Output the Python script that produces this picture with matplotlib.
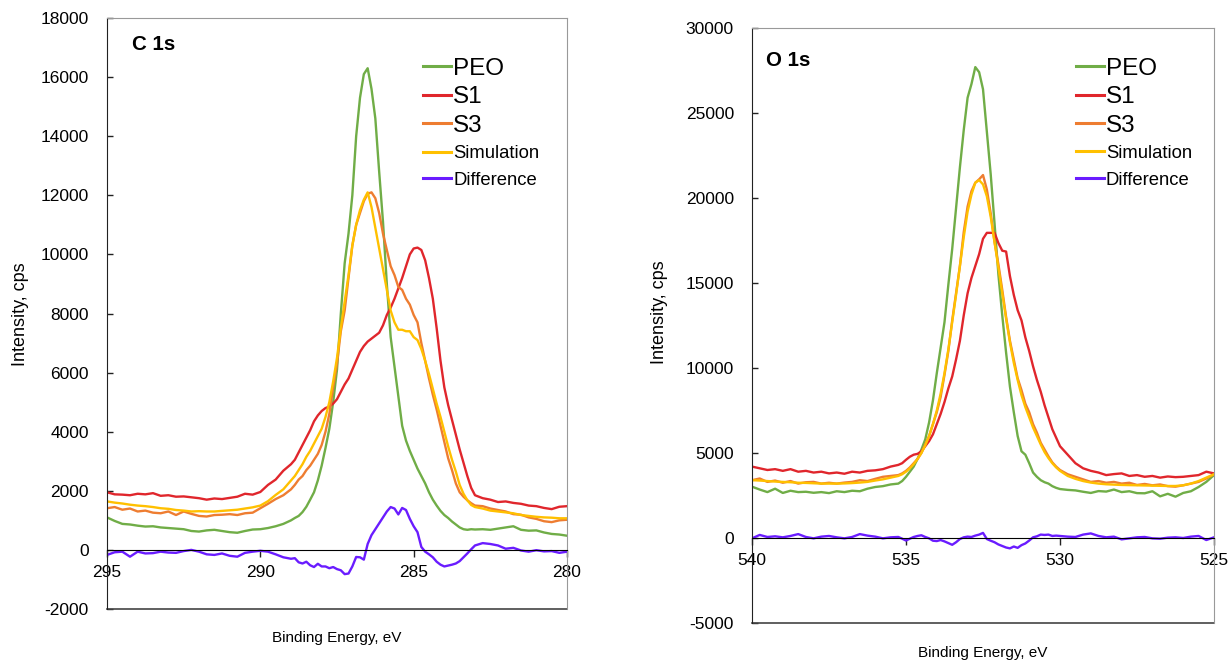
import numpy as np
import matplotlib
matplotlib.use("Agg")
import matplotlib.pyplot as plt

plt.rcParams['font.family'] = ['Liberation Sans', 'DejaVu Sans']
plt.rcParams['axes.unicode_minus'] = False

# binding energy grids (eV), finer steps through the peaks
c1s_energy = np.round(np.concatenate([np.arange(295.0, 289.0, -0.25),
                                      np.arange(289.0, 282.9, -0.125),
                                      np.arange(282.75, 279.9, -0.25)]), 3)
o1s_energy = np.round(np.concatenate([np.arange(540.0, 535.4, -0.25),
                                      np.arange(535.25, 529.9, -0.125),
                                      np.arange(529.75, 524.9, -0.25)]), 3)

# ---- C 1s (cps) ----
c1s_peo = [1100, 980, 880, 860, 820, 790, 800, 760, 740, 720, 700, 640, 620, 660, 680, 640,
           600, 580, 640, 690, 700, 740, 800, 880,
           1000, 1080, 1150, 1280, 1460, 1700, 1950, 2350, 2850, 3450, 4100, 5000, 6100, 8000,
           9700, 10700, 12000, 14000, 15300, 16100, 16300, 15600, 14600, 12800, 11100, 9000,
           7200, 6200, 5200, 4200, 3700, 3350, 3050, 2750, 2500, 2250, 1950, 1700, 1500, 1320,
           1180, 1080, 960, 860, 760, 700, 680, 700, 690,
           700, 680, 720, 760, 800, 680, 650, 660, 590, 540, 520, 480]
c1s_s1 = [1950, 1880, 1870, 1850, 1900, 1880, 1920, 1830, 1850, 1800, 1810, 1780, 1750, 1700,
          1740, 1720, 1760, 1800, 1900, 1870, 1960, 2200, 2380, 2680,
          2900, 3050, 3300, 3550, 3800, 4050, 4350, 4550, 4700, 4800, 4850, 4950, 5100, 5350,
          5600, 5800, 6100, 6400, 6700, 6900, 7050, 7150, 7250, 7350, 7600, 7950, 8200, 8500,
          8850, 9200, 9600, 10000, 10200, 10230, 10150, 9800, 9200, 8500, 7500, 6400, 5500,
          4900, 4400, 3900, 3400, 2950, 2500, 2100, 1850,
          1750, 1700, 1620, 1640, 1590, 1560, 1500, 1480, 1420, 1380, 1460, 1480]
c1s_s3 = [1410, 1450, 1360, 1400, 1300, 1330, 1260, 1240, 1300, 1180, 1300, 1220, 1150, 1130,
          1180, 1190, 1210, 1180, 1240, 1260, 1410, 1560, 1720, 1850,
          2050, 2200, 2380, 2500, 2700, 2850, 3050, 3250, 3550, 4000, 4600, 5500, 6300, 7400,
          8100, 9200, 10300, 11000, 11400, 11800, 12050, 12100, 11900, 11400, 10700, 10150,
          9600, 9300, 8900, 8800, 8500, 8300, 7950, 7700, 7000, 6400, 5800, 5250, 4750, 4200,
          3650, 3100, 2700, 2250, 1950, 1800, 1680, 1580, 1500,
          1480, 1400, 1350, 1300, 1210, 1190, 1100, 1050, 970, 940, 1000, 1020]
c1s_sim = [1640, 1600, 1570, 1530, 1500, 1480, 1450, 1410, 1390, 1350, 1330, 1300, 1310, 1300,
           1300, 1320, 1340, 1360, 1400, 1440, 1500, 1650, 1860, 2050,
           2350, 2500, 2700, 2900, 3150, 3350, 3600, 3850, 4100, 4500, 5000, 5700, 6500, 7500,
           8400, 9300, 10300, 11000, 11500, 11850, 12100, 11600, 10900, 10200, 9500, 8800,
           8100, 7700, 7450, 7450, 7400, 7400, 7200, 7100, 6800, 6400, 5950, 5450, 4950, 4500,
           4000, 3500, 3050, 2650, 2200, 1900, 1680, 1520, 1450,
           1400, 1330, 1300, 1270, 1240, 1180, 1150, 1120, 1100, 1090, 1070, 1070]
c1s_diff = [-170, -80, -60, -230, -60, -120, -110, -60, -90, -100, -40, 0, -60, -150, -170,
            -120, -200, -230, -100, -60, -30, -60, -150, -250,
            -300, -280, -420, -460, -400, -520, -580, -470, -560, -560, -620, -580, -650, -690,
            -820, -800, -560, -240, -250, -330, 200, 500, 700, 900, 1100, 1300, 1450, 1400,
            1200, 1420, 1350, 1050, 800, 600, 100, -60, -150, -250, -400, -500, -560, -530,
            -500, -460, -380, -250, -120, 20, 150,
            230, 200, 150, 40, 70, -20, -60, -10, -50, -40, -100, -60]

# ---- O 1s (cps) ----
o1s_peo = [3020, 2850, 2700, 2900, 2650, 2780, 2700, 2720, 2660, 2700, 2640, 2750, 2700, 2780,
           2750, 2900, 3000, 3050, 3150,
           3200, 3350, 3600, 3900, 4200, 4650, 5200, 5800, 6800, 8100, 9700, 11200, 12700,
           14900, 17000, 19400, 21800, 24000, 25900, 26700, 27700, 27400, 26400, 23900, 21400,
           18500, 15500, 13100, 10900, 8900, 7400, 6000, 5100, 4900, 4400, 3850, 3600, 3400,
           3280, 3200, 3050, 2950, 2880,
           2830, 2800, 2720, 2650, 2760, 2730, 2850, 2700, 2750, 2640, 2630, 2750, 2450, 2600,
           2430, 2650, 2750, 3000, 3300, 3700]
o1s_s1 = [4200, 4100, 4000, 4050, 3950, 4050, 3900, 3950, 3850, 3900, 3800, 3850, 3780, 3900,
          3850, 3950, 3980, 4050, 4200,
          4300, 4400, 4600, 4780, 4900, 4950, 5100, 5400, 5700, 6100, 6700, 7300, 8000, 8800,
          9500, 10500, 11600, 13100, 14400, 15300, 16000, 16700, 17600, 17950, 17950, 17950,
          17350, 16900, 16850, 15400, 14300, 13400, 12800, 11800, 11000, 10100, 9300, 8600,
          7800, 7100, 6400, 5900, 5400,
          4900, 4400, 4100, 3950, 3850, 3700, 3760, 3800, 3650, 3700, 3600, 3650, 3550, 3620,
          3580, 3600, 3650, 3700, 3900, 3800]
o1s_s3 = [3400, 3500, 3300, 3380, 3250, 3350, 3200, 3280, 3300, 3200, 3250, 3200, 3260, 3300,
          3400, 3350, 3480, 3600, 3650,
          3700, 3800, 3950, 4150, 4400, 4650, 5000, 5500, 6000, 6700, 7400, 8300, 9600, 11000,
          12800, 14400, 16000, 18000, 19500, 20400, 20900, 21100, 21350, 20500, 19100, 17400,
          16100, 14600, 13000, 11600, 10500, 9400, 8700, 7900, 7400, 6700, 6200, 5600, 5200,
          4800, 4450, 4200, 4000,
          3750, 3600, 3450, 3300, 3350, 3250, 3300, 3200, 3250, 3120, 3180, 3100, 3150, 3050,
          3020, 3100, 3200, 3300, 3500, 3750]
o1s_sim = [3400, 3380, 3350, 3320, 3300, 3280, 3250, 3240, 3220, 3200, 3200, 3200, 3210, 3230,
           3260, 3300, 3380, 3450, 3550,
           3650, 3750, 3900, 4100, 4350, 4650, 5000, 5450, 6000, 6700, 7500, 8500, 9700, 11100,
           12700, 14300, 16000, 17700, 19200, 20200, 20900, 21050, 20800, 20100, 18900, 17400,
           15900, 14400, 12900, 11500, 10300, 9300, 8400, 7700, 7100, 6500, 6000, 5500, 5050,
           4700, 4400, 4150, 3950,
           3650, 3480, 3350, 3260, 3200, 3160, 3140, 3120, 3110, 3100, 3090, 3080, 3070, 3060,
           3060, 3100, 3200, 3350, 3550, 3750]
o1s_diff = [-20, 180, 60, 100, 40, 120, 230, 60, -20, 80, 120, 40, -20, 60, 230, 140, 80, -20, 40,
            60, -40, -150, -40, 60, 120, 160, 60, -20, -160, -180, -120, -200, -300, -400, -250,
            -60, 40, 80, 60, 140, 200, 300, -60, -160, -250, -380, -470, -560, -610, -500, -580,
            -420, -320, -150, 40, 100, 200, 180, 200, 120, 140, 120,
            80, 60, 200, 270, 120, 40, 80, -80, -20, 40, 60, -20, -40, 20, 40, 0, 80, 120, -120, 40]

labels = ['PEO', 'S1', 'S3', 'Simulation', 'Difference']
colors = ['#70AD47', '#E0262C', '#EE7D31', '#FFC000', '#6A1CFF']


def draw_panel(ax, energy, series, xlim, xticks, ylim, yticks, title, title_pos,
               leg_x, leg_top, leg_low, ylab_pos, xlab_y):
    lines = []
    for vals, lab, col in zip(series, labels, colors):
        ln, = ax.plot(energy, vals, color=col, lw=1.7, label=lab, solid_joinstyle='round')
        lines.append(ln)
    ax.set_xlim(*xlim)
    ax.set_ylim(*ylim)
    ax.set_xticks(xticks)
    ax.set_yticks(yticks)
    ax.tick_params(axis='both', labelsize=12.5, width=1, color='#222222')
    ax.tick_params(axis='x', direction='out', length=5, pad=6)
    ax.tick_params(axis='y', direction='in', length=4, pad=13)

    # energy axis runs along zero intensity; the plot frame is a grey box
    ax.spines['bottom'].set_position(('data', 0))
    ax.spines['bottom'].set_color('black')
    ax.spines['left'].set_color('#222222')
    for side in ('top', 'right'):
        ax.spines[side].set_color('#999999')
    ax.plot([0, 1], [0, 0], transform=ax.transAxes, color='#444444', lw=1.2, clip_on=False)

    ax.set_ylabel('Intensity, cps', fontsize=13)
    ax.yaxis.set_label_coords(*ylab_pos)
    ax.set_xlabel('Binding Energy, eV', fontsize=11)
    ax.xaxis.set_label_coords(0.5, xlab_y)

    ax.text(title_pos[0], title_pos[1], title, transform=ax.transAxes, fontsize=14.8,
            fontweight='bold', va='center', ha='left')

    # sample names in a large font, model curves in a smaller one
    leg1 = ax.legend(lines[:3], labels[:3], loc='upper left', bbox_to_anchor=(leg_x, leg_top),
                     frameon=False, fontsize=17.5, handlelength=1.15, handletextpad=0.08,
                     labelspacing=0.27, borderpad=0, borderaxespad=0)
    ax.add_artist(leg1)
    leg2 = ax.legend(lines[3:], labels[3:], loc='upper left', bbox_to_anchor=(leg_x, leg_low),
                     frameon=False, fontsize=13.3, handlelength=1.52, handletextpad=0.11,
                     labelspacing=0.53, borderpad=0, borderaxespad=0)
    for leg in (leg1, leg2):
        for line in leg.get_lines():
            line.set_linewidth(2.2)


fig = plt.figure(figsize=(12.32, 6.61), dpi=100)
fig.patch.set_facecolor('white')

ax1 = fig.add_axes([107 / 1232, 1 - 609 / 661, 460 / 1232, 591 / 661])
draw_panel(ax1, c1s_energy, [c1s_peo, c1s_s1, c1s_s3, c1s_sim, c1s_diff],
           (295, 280), [295, 290, 285, 280], (-2000, 18000),
           np.arange(-2000, 18001, 2000), 'C 1s', (0.055, 0.955),
           0.687, 0.933, 0.785, (-0.169, 0.499), -0.038)

ax2 = fig.add_axes([752 / 1232, 1 - 623 / 661, 462 / 1232, 595 / 661])
draw_panel(ax2, o1s_energy, [o1s_peo, o1s_s1, o1s_s3, o1s_sim, o1s_diff],
           (540, 525), [540, 535, 530, 525], (-5000, 30000),
           np.arange(-5000, 30001, 5000), 'O 1s', (0.03, 0.945),
           0.701, 0.950, 0.8035, (-0.182, 0.523), -0.038)

fig.savefig('out.png', dpi=100)
